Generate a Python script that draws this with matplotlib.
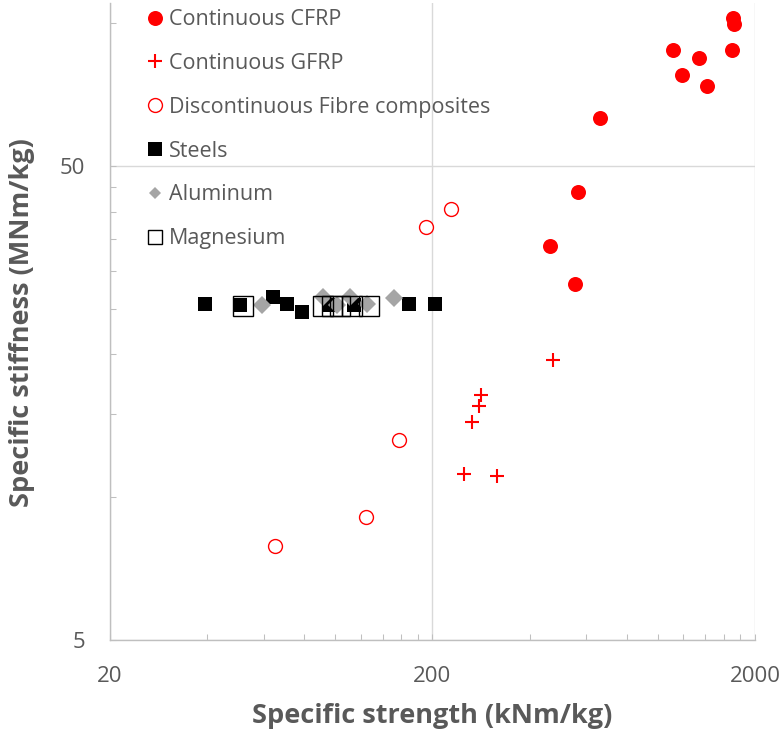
import matplotlib
matplotlib.use("Agg")
import matplotlib.pyplot as plt
from matplotlib.ticker import FixedLocator, FixedFormatter, NullFormatter

plt.rcParams['font.family'] = ['Open Sans', 'DejaVu Sans']

# values
cfrp_x = [1713, 1725, 1116, 1341, 1694, 1190, 1422, 661, 565, 464, 552]
cfrp_y = [102.6, 99.6, 87.5, 84.5, 87.5, 77.5, 73.8, 62.9, 44.0, 33.8, 28.2]

gfrp_x = [474, 283, 279, 265, 250, 316]
gfrp_y = [19.5, 16.4, 15.6, 14.4, 11.2, 11.1]

disc_x = [228, 191, 158, 124, 65]
disc_y = [40.5, 37.2, 13.2, 9.1, 7.9]

steel_x = [39.4, 50.6, 63.9, 70.6, 78.6, 95.5, 114, 169.5, 204]
steel_y = [25.5, 25.4, 26.5, 25.6, 24.6, 25.4, 25.4, 25.5, 25.5]

alu_x = [59.0, 91.2, 101, 111, 124.9, 152.4]
alu_y = [25.4, 26.4, 25.4, 26.5, 25.6, 26.3]

mg_x = [51.7, 91.5, 97.6, 103.4, 112.6, 127]
mg_y = [25.3, 25.3, 25.3, 25.3, 25.3, 25.3]

x_major = [20, 200, 2000]
y_major = [5, 50]

txt = '#595959'
axis_col = '#BFBFBF'
grid_col = '#D9D9D9'

fig = plt.figure(figsize=(7.84, 7.36), dpi=100)
ax = fig.add_axes([0.1403, 0.1304, 0.8227, 0.8651])
ax.set_xscale('log')
ax.set_yscale('log')

ax.plot(cfrp_x, cfrp_y, 'o', color='#FF0000', ms=10.8, mew=0, label='Continuous CFRP')
ax.plot(gfrp_x, gfrp_y, '+', color='#FF0000', ms=10, mew=1.5, label='Continuous GFRP')
ax.plot(disc_x, disc_y, 'o', mfc='white', mec='#FF0000', ms=10, mew=1.0,
        label='Discontinuous Fibre composites')
ax.plot(steel_x, steel_y, 's', color='black', ms=10, mew=0, label='Steels')
ax.plot(alu_x, alu_y, 'D', color='#A5A5A5', ms=9.2, mew=0, label='Aluminum')
ax.plot(mg_x, mg_y, 's', mfc='none', mec='black', ms=14.4, mew=1.0, label='Magnesium')

ax.set_xlim(20, 2000)
ax.set_ylim(5, 110)

x_minor = [20 * k for k in range(2, 10)] + [200 * k for k in range(2, 10)]
y_minor = [5 * k for k in range(2, 10)] + [100]
ax.xaxis.set_major_locator(FixedLocator(x_major))
ax.xaxis.set_major_formatter(FixedFormatter([str(v) for v in x_major]))
ax.xaxis.set_minor_locator(FixedLocator(x_minor))
ax.xaxis.set_minor_formatter(NullFormatter())
ax.yaxis.set_major_locator(FixedLocator(y_major))
ax.yaxis.set_major_formatter(FixedFormatter([str(v) for v in y_major]))
ax.yaxis.set_minor_locator(FixedLocator(y_minor))
ax.yaxis.set_minor_formatter(NullFormatter())

ax.tick_params(which='both', direction='in', color=axis_col, width=0.75, length=4.5)
ax.tick_params(which='major', labelsize=16, labelcolor=txt)
ax.tick_params(axis='x', which='major', pad=19)
ax.tick_params(axis='y', which='major', pad=18)

ax.grid(which='major', color=grid_col, lw=1.0)
ax.set_axisbelow(True)
for side in ['top', 'right']:
    ax.spines[side].set_visible(False)
for side in ['left', 'bottom']:
    ax.spines[side].set_color(axis_col)
    ax.spines[side].set_linewidth(1.0)

ax.set_xlabel('Specific strength (kNm/kg)', fontsize=19.5, fontweight='bold', color=txt, va='center')
ax.set_ylabel('Specific stiffness (MNm/kg)', fontsize=19.5, fontweight='bold', color=txt, va='center')
ax.xaxis.set_label_coords(0.499, -0.119)
ax.yaxis.set_label_coords(-0.1357, 0.4987)

leg = ax.legend(loc='upper left', bbox_to_anchor=(0.0558, 0.991), frameon=False,
                fontsize=15.5, labelcolor=txt, handlelength=0.8, handletextpad=0.25,
                labelspacing=1.06, borderpad=0, borderaxespad=0)
handles = leg.legend_handles
handles[4].set_markersize(6.6)
handles[5].set_markersize(10)

fig.savefig('out.png', dpi=100)
